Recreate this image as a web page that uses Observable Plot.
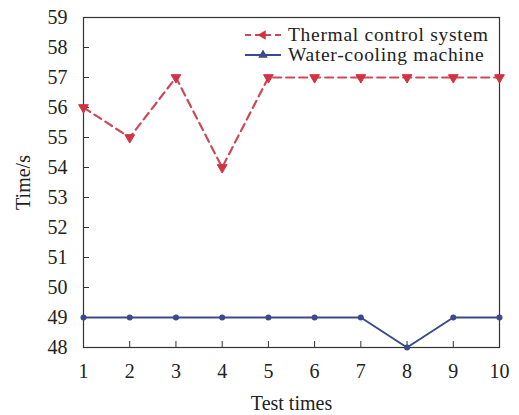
<!DOCTYPE html>
<html><head><meta charset="utf-8">
<script src="https://cdn.jsdelivr.net/npm/d3@7"></script>
<script src="https://cdn.jsdelivr.net/npm/@observablehq/plot@0.6"></script>
<style>
body{margin:0;background:#fff;}
#wrap{position:relative;width:519px;height:415px;}
#legend{position:absolute;left:244px;top:25px;font-family:"Liberation Serif",serif;font-size:19.5px;letter-spacing:0.7px;color:#222;line-height:20px;}
#legend div{display:flex;align-items:center;height:20px;}
#legend svg{margin-right:6px;}
</style>
</head><body>
<div id="wrap"><div id="legend"></div></div>
<script>
const testTimes = [1,2,3,4,5,6,7,8,9,10];
const thermal = [56,55,57,54,57,57,57,57,57,57];
const water = [49,49,49,49,49,49,49,48,49,49];
const yTicks = [48,49,50,51,52,53,54,55,56,57,58,59];
const seriesNames = ["Thermal control system","Water-cooling machine"];
const red = "#cc4a58", redMark = "#d23242", blue = "#3b4a8c";

const tData = testTimes.map((t,i)=>({t, v: thermal[i]}));
const wData = testTimes.map((t,i)=>({t, v: water[i]}));

const chart = Plot.plot({
  width: 519, height: 415,
  marginLeft: 83, marginRight: 20, marginTop: 17, marginBottom: 68,
  style: {fontFamily: "'Liberation Serif', serif", fontSize: "20px", color: "#222", background: "#fff"},
  x: {domain: [1,10]},
  y: {domain: [48,59]},
  marks: [
    Plot.frame({stroke: "#333", strokeWidth: 1.2}),
    Plot.axisX({ticks: testTimes, tickSize: 0, tickPadding: 16, label: "Test times", labelAnchor: "center", labelOffset: 62, labelArrow: "none"}),
    Plot.axisX({ticks: testTimes.slice(1,-1), tickSize: -6, tickFormat: () => "", label: null, stroke: "#333"}),
    Plot.axisY({ticks: yTicks, tickSize: 0, tickPadding: 16, label: "Time/s", labelAnchor: "center", labelOffset: 68, labelArrow: "none"}),
    Plot.axisY({ticks: yTicks.slice(1,-1), tickSize: -6, tickFormat: () => "", label: null, stroke: "#333"}),
    Plot.line(wData, {x: "t", y: "v", stroke: blue, strokeWidth: 2}),
    Plot.dot(wData, {x: "t", y: "v", r: 3, fill: blue, stroke: "none"}),
    Plot.line(tData, {x: "t", y: "v", stroke: red, strokeWidth: 2.2, strokeDasharray: "8,5"}),
    Plot.dot(tData, {x: "t", y: "v", symbol: "triangle", rotate: 180, r: 3.6, fill: redMark, stroke: redMark, strokeWidth: 1})
  ]
});
document.getElementById("wrap").prepend(chart);

// Legend
const leg = document.getElementById("legend");
const specs = [
  {name: seriesNames[0], color: red, mark: redMark, dash: "6,4", rot: -90},
  {name: seriesNames[1], color: blue, mark: blue, dash: null, rot: 0}
];
for (const s of specs) {
  const row = document.createElement("div");
  const svg = d3.create("svg").attr("width", 38).attr("height", 14);
  svg.append("line").attr("x1",1).attr("x2",37).attr("y1",7).attr("y2",7)
    .attr("stroke", s.color).attr("stroke-width", 2).attr("stroke-dasharray", s.dash);
  svg.append("path").attr("d", d3.symbol(d3.symbolTriangle, 40)())
    .attr("transform", `translate(19,7) rotate(${s.rot})`).attr("fill", s.mark);
  row.appendChild(svg.node());
  const span = document.createElement("span");
  span.textContent = s.name;
  row.appendChild(span);
  leg.appendChild(row);
}
</script>
</body></html>
